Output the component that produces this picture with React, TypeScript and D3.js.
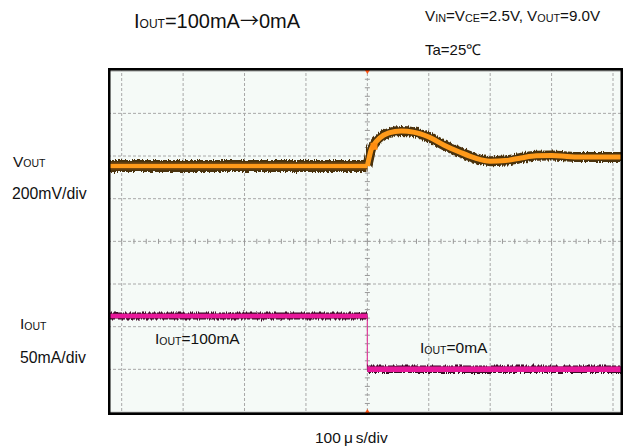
import React from "react";
import * as d3 from "d3";

// ---- data ----
// time in µs relative to the trigger (100 µs/div)
const voutTime = [-425, -300, -150, 0, 3, 6, 10, 20, 35, 55, 75, 100, 125, 150, 175, 200, 225, 250, 275, 300, 325, 350, 425];
// VOUT deviation in mV (200 mV/div)
const voutDev = [0, 0, 0, 0, 40, 75, 98, 131, 155, 164, 159, 136, 98, 66, 38, 23, 26, 38, 48, 49, 45, 42, 42];
// IOUT step (mA)
const ioutTime = [-425, 0, 0, 425];
const ioutVal = [100, 100, 0, 0];
// graticule
const xDivs = [-4, -3, -2, -1, 0, 1, 2, 3, 4];
const yDivs = [-3, -2, -1, 0, 1, 2, 3];

const FONT = "'Liberation Sans', Arial, Helvetica, sans-serif";
const CJK = "'Noto Sans CJK JP', sans-serif";

export default function App() {
  const W = 627, H = 448;
  const fx0 = 108, fx1 = 623, fy0 = 68, fy1 = 415;

  const xDiv = d3.scaleLinear().domain([-4, 4]).range([121.7, 613]);
  const yDiv = d3.scaleLinear().domain([-4, 4]).range([412, 70.7]);
  const xT = (t: number) => xDiv(t / 100);
  const vOffset = 1.765;
  const yV = (v: number) => yDiv(vOffset + v / 200);
  const yI = d3.scaleLinear().domain([0, 100]).range([yDiv(-3.0), yDiv(-1.75)]);

  const vPts = voutTime.map((t, i) => [t, voutDev[i]] as [number, number]);
  const vLine = d3
    .line<[number, number]>()
    .x((d) => xT(d[0]))
    .y((d) => yV(d[1]))
    .curve(d3.curveMonotoneX);
  const vBefore = vLine(vPts.filter((d) => d[0] <= 0)) || "";
  const vAfter = vLine(vPts.filter((d) => d[0] >= 0)) || "";

  const iPts = ioutTime.map((t, i) => [t, ioutVal[i]] as [number, number]);
  const seg1 = `M${xT(iPts[0][0])},${yI(iPts[0][1])}L${xT(iPts[1][0])},${yI(iPts[1][1])}`;
  const seg2 = `M${xT(iPts[2][0])},${yI(iPts[2][1])}L${xT(iPts[3][0])},${yI(iPts[3][1])}`;
  const stepX = xT(iPts[1][0]);

  const minorX = d3.range(-4.2, 4.21, 0.2);
  const minorY = d3.range(-3.8, 3.81, 0.2);

  return (
    <svg width={W} height={H} style={{ position: "absolute", left: 0, top: 0 }} fontFamily={FONT}>
      <defs>
        <clipPath id="plotclip">
          <rect x={fx0 + 2} y={fy0 + 2} width={fx1 - fx0 - 4} height={fy1 - fy0 - 4} />
        </clipPath>
        <filter id="fuzz" x="-5%" y="-50%" width="110%" height="200%">
          <feTurbulence type="fractalNoise" baseFrequency="0.9 0.02" numOctaves="2" seed="3" result="n" />
          <feDisplacementMap in="SourceGraphic" in2="n" scale="5" xChannelSelector="R" yChannelSelector="G" />
        </filter>
      </defs>
      <rect x={0} y={0} width={W} height={H} fill="#ffffff" />

      {/* titles */}
      <text x={134} y={27.5} fontSize={20} fill="#111">
        I<tspan fontSize={12} dy={0.5}>OUT</tspan>
        <tspan dy={-0.5}>=100mA</tspan>
        <tspan fontFamily={CJK} fontSize={19}>→</tspan>
        <tspan>0mA</tspan>
      </text>
      <text x={425} y={20.5} fontSize={15.2} fill="#111">
        V<tspan fontSize={10.8} dy={1}>IN</tspan>
        <tspan dy={-1}>=V</tspan>
        <tspan fontSize={10.8} dy={1}>CE</tspan>
        <tspan dy={-1}>=2.5V, V</tspan>
        <tspan fontSize={10.8} dy={1}>OUT</tspan>
        <tspan dy={-1}>=9.0V</tspan>
      </text>
      <text x={425} y={55} fontSize={15} fill="#111">
        Ta=25℃
      </text>

      {/* left labels */}
      <text x={13} y={166.5} fontSize={15.5} fill="#111">
        V<tspan fontSize={10.5} dy={0.5}>OUT</tspan>
      </text>
      <text x={12} y={199} fontSize={15.8} fill="#111">
        200mV/div
      </text>
      <text x={20} y={329} fontSize={15.5} fill="#111">
        I<tspan fontSize={10.5} dy={0.5}>OUT</tspan>
      </text>
      <text x={20} y={362.5} fontSize={15.8} fill="#111">
        50mA/div
      </text>

      {/* plot area */}
      <rect x={fx0} y={fy0} width={fx1 - fx0} height={fy1 - fy0} fill="#f5faf7" />
      <g clipPath="url(#plotclip)">
        {xDivs.map((d) => (
          <line key={"vx" + d} x1={xDiv(d)} x2={xDiv(d)} y1={fy0} y2={fy1} stroke="#a8a8a8" strokeWidth={1} strokeDasharray="3,2" />
        ))}
        {yDivs.map((d) => (
          <line key={"hy" + d} x1={fx0} x2={fx1} y1={yDiv(d)} y2={yDiv(d)} stroke="#a8a8a8" strokeWidth={1} strokeDasharray="3,2" />
        ))}
        {minorX.map((d, i) => (
          <line key={"mx" + i} x1={xDiv(d)} x2={xDiv(d)} y1={yDiv(0) - 2.5} y2={yDiv(0) + 2.5} stroke="#999" strokeWidth={1} />
        ))}
        {minorY.map((d, i) => (
          <line key={"my" + i} x1={xDiv(0) - 2.5} x2={xDiv(0) + 2.5} y1={yDiv(d)} y2={yDiv(d)} stroke="#999" strokeWidth={1} />
        ))}
        <line x1={fx0} x2={fx1} y1={70.8} y2={70.8} stroke="#9a9a9a" strokeWidth={1.2} />
        <line x1={fx0} x2={fx1} y1={412.3} y2={412.3} stroke="#9a9a9a" strokeWidth={1.2} />

        {/* VOUT trace */}
        <g filter="url(#fuzz)">
          <path d={vBefore} fill="none" stroke="#4a300c" strokeWidth={12} />
          <path d={vAfter} fill="none" stroke="#4a300c" strokeWidth={10} />
        </g>
        <path d={vBefore} fill="none" stroke="#7a4a10" strokeWidth={7} />
        <path d={vBefore} fill="none" stroke="#ff9a1a" strokeWidth={4} />
        <path d={vAfter} fill="none" stroke="#ff9a1a" strokeWidth={5} />
        <rect x={xT(10) - 3} y={yV(95) - 3} width={7} height={7} fill="#ff8c10" />

        {/* IOUT trace */}
        <line x1={stepX} x2={stepX} y1={yI(100)} y2={yI(0)} stroke="#e0409c" strokeWidth={1.2} />
        <g filter="url(#fuzz)">
          <path d={seg1} fill="none" stroke="#3a0a26" strokeWidth={7} />
          <path d={seg2} fill="none" stroke="#3a0a26" strokeWidth={7.5} />
        </g>
        <path d={seg1} fill="none" stroke="#e8189a" strokeWidth={4.5} />
        <path d={seg2} fill="none" stroke="#e8189a" strokeWidth={5.5} />

        {/* trigger marks */}
        <path d={`M${xDiv(0) - 2.5},${fy0 + 2}L${xDiv(0) + 2.5},${fy0 + 2}L${xDiv(0)},${fy0 + 6}Z`} fill="#ff5010" />
        <path d={`M${xDiv(0) - 2.5},${fy1 - 2}L${xDiv(0) + 2.5},${fy1 - 2}L${xDiv(0)},${fy1 - 6}Z`} fill="#ff5010" />
      </g>

      {/* frame */}
      <rect x={fx0 + 1.25} y={fy0 + 1.25} width={fx1 - fx0 - 2.5} height={fy1 - fy0 - 2.5} fill="none" stroke="#000" strokeWidth={2.5} />

      {/* trace annotations */}
      <text x={155} y={344} fontSize={15.5} fill="#111">
        I<tspan fontSize={10.5} dy={0.5}>OUT</tspan>
        <tspan dy={-0.5}>=100mA</tspan>
      </text>
      <text x={420} y={353} fontSize={15.5} fill="#111">
        I<tspan fontSize={10.5} dy={0.5}>OUT</tspan>
        <tspan dy={-0.5}>=0mA</tspan>
      </text>

      {/* time base */}
      <text x={315} y={443} fontSize={15.5} fill="#111">
        100<tspan dx={3}>μ</tspan>
        <tspan dx={3}>s/div</tspan>
      </text>
    </svg>
  );
}
